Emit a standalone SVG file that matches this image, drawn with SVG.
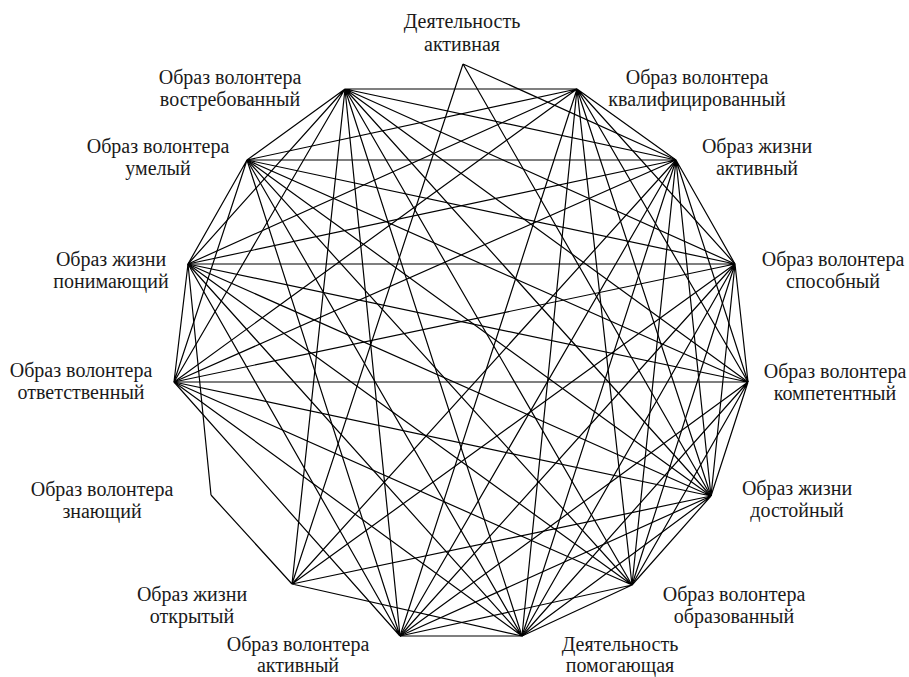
<svg xmlns="http://www.w3.org/2000/svg" width="909" height="677" viewBox="0 0 909 677">
<style>
.e{stroke:#000;stroke-width:1.2;fill:none}
text{font-family:"Liberation Serif","DejaVu Serif",serif;font-size:20px;fill:#1a1a1a;text-anchor:middle}
</style>
<rect width="909" height="677" fill="#fff"/>
<g id="edges">
<path class="e" d="M345,89L577,89 M345,89L676,160 M345,89L735,264 M345,89L748,382 M345,89L711,496 M345,89L632,585 M345,89L522,636 M345,89L400,636 M345,89L174,382 M345,89L188,264 M345,89L247,160"/>
<path class="e" d="M577,89L676,160 M577,89L735,264 M577,89L748,382 M577,89L711,496 M577,89L632,585 M577,89L522,636 M577,89L400,636 M577,89L174,382 M577,89L188,264 M577,89L247,160"/>
<path class="e" d="M676,160L735,264 M676,160L748,382 M676,160L711,496 M676,160L632,585 M676,160L522,636 M676,160L400,636 M676,160L174,382 M676,160L188,264 M676,160L247,160"/>
<path class="e" d="M735,264L748,382 M735,264L711,496 M735,264L632,585 M735,264L522,636 M735,264L400,636 M735,264L174,382 M735,264L188,264 M735,264L247,160"/>
<path class="e" d="M748,382L711,496 M748,382L632,585 M748,382L522,636 M748,382L400,636 M748,382L174,382 M748,382L188,264 M748,382L247,160"/>
<path class="e" d="M711,496L632,585 M711,496L522,636 M711,496L400,636 M711,496L174,382 M711,496L188,264 M711,496L247,160"/>
<path class="e" d="M632,585L522,636 M632,585L400,636 M632,585L174,382 M632,585L188,264 M632,585L247,160"/>
<path class="e" d="M522,636L400,636 M522,636L174,382 M522,636L188,264 M522,636L247,160"/>
<path class="e" d="M400,636L174,382 M400,636L188,264 M400,636L247,160"/>
<path class="e" d="M174,382L188,264 M174,382L247,160 M188,264L247,160"/>
<path class="e" d="M463,64L292,584 M463,64L711,496 M463,64L676,160 M211,495L188,264 M211,495L292,584"/>
<path class="e" d="M292,584L345,89 M292,584L676,160 M292,584L735,264 M292,584L711,496 M292,584L522,636"/>
</g>
<g id="n1"><text x="462" y="28">Деятельность</text><text x="462" y="51">активная</text></g>
<g id="n2"><text x="697" y="84">Образ волонтера</text><text x="697" y="106">квалифицированный</text></g>
<g id="n3"><text x="757" y="153">Образ жизни</text><text x="757" y="175">активный</text></g>
<g id="n4"><text x="833" y="266">Образ волонтера</text><text x="833" y="288">способный</text></g>
<g id="n5"><text x="835" y="378">Образ волонтера</text><text x="835" y="400">компетентный</text></g>
<g id="n6"><text x="797" y="495">Образ жизни</text><text x="797" y="517">достойный</text></g>
<g id="n7"><text x="734" y="601">Образ волонтера</text><text x="734" y="623">образованный</text></g>
<g id="n8"><text x="620" y="651">Деятельность</text><text x="620" y="672">помогающая</text></g>
<g id="n9"><text x="298" y="651">Образ волонтера</text><text x="298" y="672">активный</text></g>
<g id="n10"><text x="192" y="601">Образ жизни</text><text x="192" y="623">открытый</text></g>
<g id="n11"><text x="102" y="496">Образ волонтера</text><text x="102" y="518">знающий</text></g>
<g id="n12"><text x="81" y="377">Образ волонтера</text><text x="81" y="399">ответственный</text></g>
<g id="n13"><text x="111" y="266">Образ жизни</text><text x="111" y="288">понимающий</text></g>
<g id="n14"><text x="158" y="153">Образ волонтера</text><text x="158" y="175">умелый</text></g>
<g id="n15"><text x="230" y="84">Образ волонтера</text><text x="230" y="106">востребованный</text></g>
</svg>
